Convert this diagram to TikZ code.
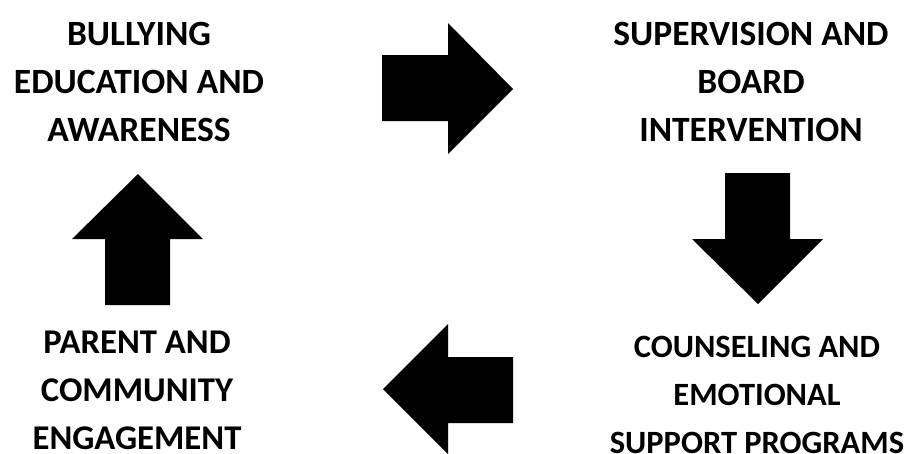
\documentclass[tikz,border=0pt]{standalone}
\usepackage{fontspec}
\setmainfont{Carlito}
\usepackage{tikz}
\usetikzlibrary{positioning}
\tikzset{
  stage/.style={align=center, inner sep=0pt, font=\bfseries\fontsize{#1}{48}\selectfont},
  stage/.default=35.5,
  blockarrow/.style={fill=black, draw=none}}

\begin{document}
\begin{tikzpicture}[x=1pt, y=-1pt]
  \useasboundingbox (0,0) rectangle (905,453);
  \node[stage] (edu) at (139,82) {BULLYING\\EDUCATION AND\\AWARENESS};
  \node[stage] (sup) at (751,82) {SUPERVISION AND\\BOARD\\INTERVENTION};
  \node[stage=32.5] (cou) at (757,395) {COUNSELING AND\\EMOTIONAL\\SUPPORT PROGRAMS};
  \node[stage=34.7] (par) at (137,390) {PARENT AND\\COMMUNITY\\ENGAGEMENT};
  % right, down, left, up
  \fill[blockarrow] (382,55) -- (448,55) -- (448,23) -- (513,89) -- (448,154) -- (448,121) -- (382,121) -- cycle;
  \fill[blockarrow] (725,173) -- (790,173) -- (790,239) -- (823,239) -- (758,304) -- (692,239) -- (725,239) -- cycle;
  \fill[blockarrow] (513,357) -- (513,423) -- (448,423) -- (448,454) -- (383,389) -- (448,324) -- (448,357) -- cycle;
  \fill[blockarrow] (105,305) -- (105,239) -- (72,239) -- (138,174) -- (203,239) -- (170,239) -- (170,305) -- cycle;
\end{tikzpicture}
\end{document}
